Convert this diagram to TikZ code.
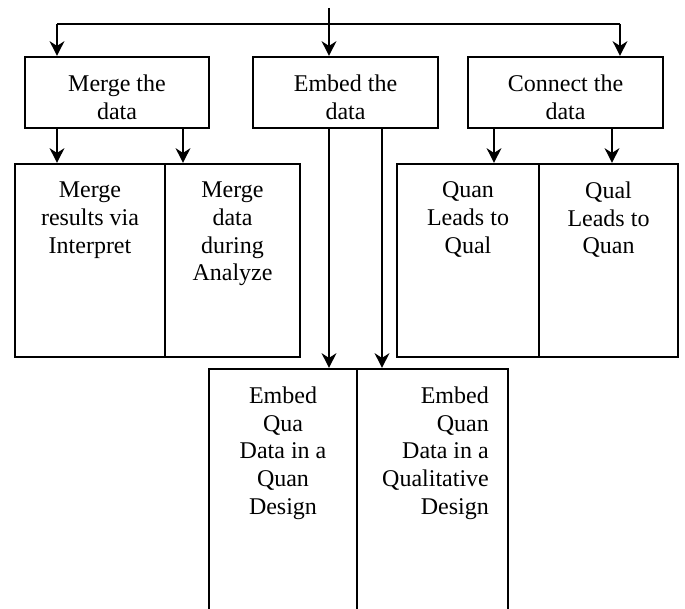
\documentclass[tikz,border=0pt]{standalone}
\usepackage{fontspec}
\setmainfont{Liberation Serif}
\usetikzlibrary{arrows.meta,positioning}
\newcommand{\bigtxt}{\fontsize{18}{20.8}\selectfont}

\begin{document}
\begin{tikzpicture}[x=0.75pt,y=-0.75pt,
   box/.style={draw,line width=1.6pt,inner sep=0pt},
   txt/.style={inner sep=0pt,font=\bigtxt},
   ln/.style={line width=1.6pt},
   arr/.style={line width=1.6pt,-{Stealth[length=11pt,width=11pt,inset=3.5pt]}}]
   \useasboundingbox (0,0) rectangle (685,609);
   % first level
   \node[box,minimum width=138pt,minimum height=53.25pt]    (merge)   at (117,92.5)   {};
   \node[box,minimum width=138.75pt,minimum height=53.25pt] (embed)   at (345.5,92.5) {};
   \node[box,minimum width=146.25pt,minimum height=53.25pt] (connect) at (565.5,92.5) {};
   \node[txt,align=center,below=14pt of merge.north]   (mergetxt)   {Merge the\\data};
   \node[txt,align=center,below=14pt of embed.north]   (embedtxt)   {Embed the\\data};
   \node[txt,align=center,below=14pt of connect.north] (connecttxt) {Connect the\\data};
   % second level
   \node[box,minimum width=112.5pt,minimum height=144.75pt]  (mres) at (90,260.5)  {};
   \node[box,minimum width=101.25pt,minimum height=144.75pt] (mdur) at (232.5,260.5) {};
   \node[box,minimum width=106.5pt,minimum height=144.75pt]  (qnql) at (468,260.5) {};
   \node[box,minimum width=104.25pt,minimum height=144.75pt] (qlqn) at (608.5,260.5) {};
   \node[box,minimum width=111pt,minimum height=192pt]    (eqa) at (283,497)   {};
   \node[box,minimum width=113.25pt,minimum height=192pt] (eqn) at (432.5,497) {};
   \node[txt,align=center,below=14pt of mres.north] (mrestxt) {Merge\\results via\\Interpret};
   \node[txt,align=center,below=14pt of mdur.north] (mdurtxt) {Merge\\data\\during\\Analyze};
   \node[txt,align=center,below=14pt of qnql.north] (qnqltxt) {Quan\\Leads to\\Qual};
   \node[txt,align=center,below=14pt of qlqn.north] (qlqntxt) {Qual\\Leads to\\Quan};
   \node[txt,align=center,below=14pt of eqa.north] (eqatxt) {Embed\\Qua\\Data in a\\Quan\\Design};
   \node[txt,align=right,below left=14pt and 15pt of eqn.north east] (eqntxt) {Embed\\Quan\\Data in a\\Qualitative\\Design};
   % connectors
   \coordinate (src)  at (329,8);
   \coordinate (busl) at (57,24);
   \coordinate (busr) at (620,24);
   \coordinate (xa) at (57,0);
   \coordinate (xb) at (183,0);
   \coordinate (xc) at (329,0);
   \coordinate (xd) at (382,0);
   \coordinate (xe) at (494,0);
   \coordinate (xf) at (612,0);
   \draw[ln] (busl) -- (busr);
   \draw[arr] (src) -- (src |- embed.north);
   \draw[arr] (busl) -- (busl |- merge.north);
   \draw[arr] (busr) -- (busr |- connect.north);
   \draw[arr] (merge.south -| xa) -- (mres.north -| xa);
   \draw[arr] (merge.south -| xb) -- (mdur.north -| xb);
   \draw[arr] (embed.south -| xc) -- (eqa.north -| xc);
   \draw[arr] (embed.south -| xd) -- (eqn.north -| xd);
   \draw[arr] (connect.south -| xe) -- (qnql.north -| xe);
   \draw[arr] (connect.south -| xf) -- (qlqn.north -| xf);
\end{tikzpicture}
\end{document}
